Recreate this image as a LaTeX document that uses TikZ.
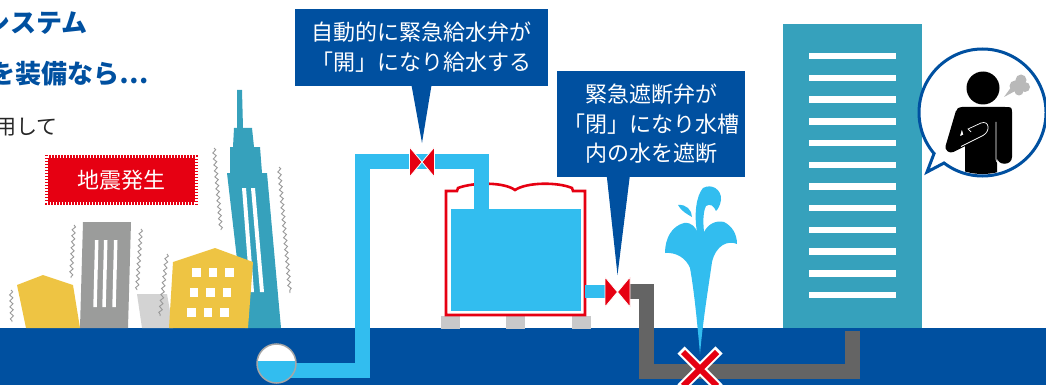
\documentclass[tikz,border=0pt]{standalone}
\usepackage{fontspec}
\setmainfont{Noto Sans CJK JP}
\usetikzlibrary{positioning, calc, decorations.pathmorphing}

\definecolor{groundblue}{RGB}{0,80,160}
\definecolor{waterblue}{RGB}{50,189,239}
\definecolor{towerteal}{RGB}{54,161,188}
\definecolor{housegold}{RGB}{238,196,67}
\definecolor{concrete}{RGB}{155,156,155}
\definecolor{palegray}{RGB}{211,211,211}
\definecolor{footgray}{RGB}{200,201,202}
\definecolor{drainpipe}{RGB}{100,100,100}
\definecolor{alarmred}{RGB}{230,0,18}

\begin{document}
\begin{tikzpicture}[x=1pt, y=-1pt,
    pipe/.style={line width=15pt, line join=miter},
    valve/.style={fill=alarmred, draw=white, line width=0.8pt, line join=miter},
    msgbox/.style={fill=groundblue, text=white, inner sep=0pt, align=center,
        font=\fontsize{22}{30}\selectfont},
    tremor/.style={draw=gray!80, line width=0.9pt, decorate,
        decoration={snake, segment length=6pt, amplitude=1.6pt}}]
	% Frame of the scene (y runs downwards)
	\clip (0,0) rectangle (1046,385);
	
	% Headline, cut at the left border
	\node[anchor=west, inner sep=0pt, text=groundblue, font=\bfseries\fontsize{26}{30}\selectfont] (title1) at (-16,23) {システム};
	\node[anchor=west, inner sep=0pt, text=groundblue, font=\bfseries\fontsize{26}{30}\selectfont] (title2) at (-11,74) {を装備なら…};
	\node[anchor=west, inner sep=0pt, text=black!85, font=\fontsize{21}{25}\selectfont] (lead) at (-5,127) {用して};
	
	% Ground
	\fill[groundblue] (0,328) rectangle (1046,385);
	
	% Shaking town on the left
	\fill[housegold] (17,285) -- (43,275) -- (73,285) -- (80,328) -- (26,328) -- cycle;
	\fill[concrete] (83,222) -- (131,222) -- (128,328) -- (80,328) -- cycle;
	\foreach \sx in {95,104,114}
		\fill[white] (\sx,240) -- ({\sx+3.5},240) -- ({\sx+1.8},307) -- ({\sx-1.7},307) -- cycle;
	\fill[palegray] (137,294) -- (167,294) -- (173,328) -- (142,328) -- cycle;
	\fill[towerteal] (237,90) -- (242,90) -- (243,128) -- (252,128) -- (254,147) -- (260,147)
		-- (262,173) -- (267,173) -- (281,328) -- (245,328) -- (227,173) -- (230,173)
		-- (230,147) -- (233,147) -- (234,128) -- (237,128) -- cycle;
	\fill[white] (242,188) -- (246,188) -- (254,292) -- (250,292) -- cycle;
	\fill[white] (251,188) -- (255,188) -- (264,292) -- (260,292) -- cycle;
	\fill[housegold] (173,262) -- (215,248) -- (253,262) -- (248,328) -- (169,328) -- cycle;
	\foreach \row in {0,1,2}
		\foreach \col in {0,1,2}
			\fill[white] ({192+16.5*\col-2.5*\row},{268+20*\row}) rectangle +(8.5,8.5);
	
	% Vibration marks
	\draw[tremor] (11,290) -- (12,322);
	\draw[tremor] (74,225) -- (71,278);
	\draw[tremor] (141,229) -- (137,290);
	\draw[tremor] (167,254) -- (160,316);
	\draw[tremor] (214,148) -- (221,230);
	\draw[tremor] (279,167) -- (290,293);
	
	% Earthquake label
	\node[fill=alarmred, text=white, inner sep=0pt, minimum width=153pt, minimum height=50pt,
		font=\fontsize{22}{26}\selectfont] (quake) at (121.5,180) {地震発生};
	\draw[white, line width=3pt, dash pattern=on 1.2pt off 1.8pt]
		($(quake.north west)+(1.5,1.5)$) rectangle ($(quake.south east)+(-1.5,-1.5)$);
	
	% Water tank on its feet
	\foreach \fx in {441,506,572}
		\fill[footgray] (\fx,316) rectangle +(19,13);
	\filldraw[fill=white, draw=alarmred, line width=2.6pt] (446,315) -- (446,191) -- (457,191) -- (458,188)
		.. controls (474,182) and (504,182) .. (515,190)
		.. controls (527,182) and (558,182) .. (572,188) -- (573,191) -- (585,191) -- (585,315) -- cycle;
	\fill[waterblue] (451,209) rectangle (581,311);
	
	% Supply line from the receiving tank
	\draw[pipe, waterblue] (280,370) -- (362,370) -- (362,161) -- (481,161) -- (481,210);
	\coordinate (tankball) at (276.5,363.5);
	\fill[white] (tankball) circle (19.5pt);
	\begin{scope}
		\clip (tankball) circle (19.5pt);
		\fill[waterblue] (250,361) rectangle (300,390);
	\end{scope}
	\draw[gray!70, line width=1.5pt] (tankball) circle (19.5pt);
	
	% Outlet line to the building
	\draw[pipe, waterblue, line width=13pt] (585,291) -- (606,291);
	\draw[pipe, drainpipe] (629,291) -- (646,291) -- (646,371) -- (852,371) -- (852,331);
	
	% Valves
	\coordinate (feedvalve) at (422,162);
	\coordinate (shutvalve) at (617.5,292);
	\foreach \v in {feedvalve,shutvalve} {
		\filldraw[valve] ($(\v)+(-12.5,-15)$) -- (\v) -- ($(\v)+(-12.5,15)$) -- cycle;
		\filldraw[valve] ($(\v)+(12.5,-15)$) -- (\v) -- ($(\v)+(12.5,15)$) -- cycle;
	}
	
	% Callouts
	\node[msgbox, minimum width=253pt, minimum height=77pt] (openmsg) at (421.5,47.5)
		{自動的に緊急給水弁が\\「開」になり給水する};
	\fill[groundblue] ($(openmsg.south)+(-10,-1)$) -- ($(openmsg.south)+(10,-1)$) -- ($(feedvalve)+(0,-19)$) -- cycle;
	\node[msgbox, minimum width=188pt, minimum height=106pt, font=\fontsize{22}{29.5}\selectfont] (closemsg) at (651,124)
		{緊急遮断弁が\\「閉」になり水槽\\内の水を遮断};
	\fill[groundblue] ($(closemsg.south west)+(50,-1)$) -- ($(closemsg.south west)+(73,-1)$) -- ($(shutvalve)+(0,-17)$) -- cycle;
	
	% Burst pipe and fountain
	\coordinate (leak) at (700,369);
	\fill[waterblue] (700,354)
		.. controls (697,320) and (694,290) .. (690,268)
		.. controls (686,258) and (676,252) .. (665,253)
		.. controls (665,238) and (672,226) .. (684,223)
		.. controls (692,222) and (696,228) .. (697,232)
		.. controls (694,215) and (696,196) .. (703,188)
		.. controls (712,183) and (722,190) .. (721,200)
		.. controls (720,206) and (718,209) .. (716,211)
		.. controls (714,206) and (710,203) .. (706,206)
		.. controls (703,212) and (703,222) .. (704,232)
		.. controls (708,224) and (716,220) .. (724,222)
		.. controls (732,226) and (737,234) .. (737,244)
		.. controls (728,240) and (716,245) .. (712,262)
		.. controls (708,290) and (703,320) .. (700,354) -- cycle;
	\fill[waterblue] (678,205) .. controls (686,204) and (692,210) .. (692,217)
		.. controls (687,214) and (681,211) .. (678,205) -- cycle;
	\draw[white, line width=10pt] ($(leak)+(-19,-19)$) -- ($(leak)+(19,19)$) ($(leak)+(19,-19)$) -- ($(leak)+(-19,19)$);
	\draw[alarmred, line width=6pt] ($(leak)+(-17,-17)$) -- ($(leak)+(17,17)$) ($(leak)+(17,-17)$) -- ($(leak)+(-17,17)$);
	
	% Building on the right
	\fill[towerteal] (783,24) rectangle (922,328);
	\foreach \i in {0,...,11}
		\fill[white] (809,{53+21.7*\i}) rectangle (896,{59.5+21.7*\i});
	
	% Speech bubble with resident
	\coordinate (bubblec) at (982.5,112.5);
	\fill[white] (bubblec) circle (63.5pt);
	\draw[groundblue, line width=3pt] (bubblec) circle (63.5pt);
	\fill[white] (935.1,151.8) -- (927,172) -- (945.6,161.7) -- cycle;
	\draw[groundblue, line width=3pt, line join=miter] (934.5,152.3) -- (927,172) -- (945,162.5);
	\begin{scope}
		\clip (bubblec) circle (61.5pt);
		\fill[black] (983,88) circle (16.5pt);
		\fill[black] (957,113) .. controls (957,108) .. (962,107) -- (1005,107) .. controls (1012,107) .. (1012,114)
			-- (1012,157) .. controls (1012,166) and (997,166) .. (997,157) -- (997,185) -- (965,185) -- (965,140) -- cycle;
		\draw[black, line width=11pt, line cap=round, line join=round] (961,113) -- (951,147) -- (985,130);
		\draw[white, line width=0.7pt] (996,122) -- (996,157) .. controls (996,161) .. (999,164);
		\draw[white, line width=0.7pt] (961,146.5) -- (983,135.5) .. controls (991,131) and (989,120) .. (981,123)
			-- (968,129) -- (971,132);
	\end{scope}
	% Cough puff
	\fill[gray!55] (1015,86) circle (5.5pt) (1021,80) circle (5.5pt) (1025,87) circle (5pt) (1019,91) circle (4.5pt);
	\fill[gray!55] (1012,86) -- (1004,97) -- (1017,90) -- cycle;
\end{tikzpicture}
\end{document}
